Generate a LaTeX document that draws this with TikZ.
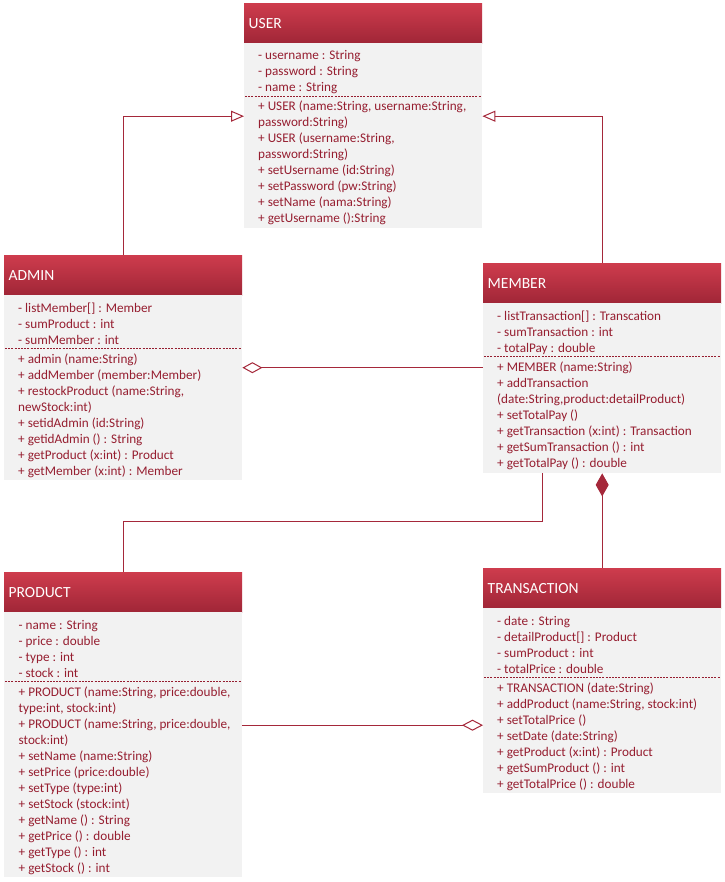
\documentclass[tikz,border=0pt]{standalone}
\usepackage{fontspec}
\setmainfont{Carlito}
\usetikzlibrary{arrows.meta}
\definecolor{txtred}{RGB}{150,30,48}
\definecolor{hdtop}{RGB}{206,60,77}
\definecolor{hdbot}{RGB}{160,38,55}
\definecolor{bodygray}{RGB}{242,242,242}
\definecolor{linered}{RGB}{165,40,58}
\tikzset{
  hdr/.style={anchor=north west, top color=hdtop, bottom color=hdbot, draw=none,
    minimum height=40pt, text width=229pt, inner xsep=4.5pt, inner ysep=0pt,
    align=left, text=white, font=\fontsize{15.5}{18}\selectfont},
  bodybox/.style={anchor=north west, fill=bodygray, draw=none, minimum width=238pt, inner sep=0pt},
  mline/.style={anchor=base west, inner sep=0pt, text=txtred, font=\fontsize{13.2}{16}\selectfont},
  sepline/.style={draw=txtred, dash pattern=on 2pt off 1.2pt, line width=0.8pt},
  conn/.style={draw=linered, line width=1pt},
  gen/.style={-{Triangle[open,length=13pt,width=11pt]}},
  aggr/.style={{Diamond[open,length=20pt,width=11pt]}-},
  comp/.style={{Diamond[length=23pt,width=13pt]}-},
}
\begin{document}
\begin{tikzpicture}[x=1pt,y=-1pt]
\fill[white] (0,0) rectangle (724,882);
\useasboundingbox (0,0) rectangle (724,882);

% ---------------- USER
\node[hdr] (userH) at (244,3) {USER};
\node[bodybox, minimum height=185pt] (userB) at (244,43) {};
\foreach \t [count=\i from 0] in {{- username : String},{- password : String},{- name : String}}
  \node[mline] (userA\i) at (258,{60+16*\i}) {\t};
\draw[sepline] (245,96) -- (481,96);
\foreach \t [count=\i from 0] in {{+ USER (name:String, username:String,},{password:String)},{+ USER (username:String,},{password:String)},{+ setUsername (id:String)},{+ setPassword (pw:String)},{+ setName (nama:String)},{+ getUsername ():String}}
  \node[mline] (userM\i) at (258,{111+16*\i}) {\t};

% ---------------- ADMIN
\node[hdr] (adminH) at (4,255) {ADMIN};
\node[bodybox, minimum height=185pt] (adminB) at (4,295) {};
\foreach \t [count=\i from 0] in {{- listMember[] : Member},{- sumProduct : int},{- sumMember : int}}
  \node[mline] (adminA\i) at (18,{312+16*\i}) {\t};
\draw[sepline] (5,348.5) -- (241,348.5);
\foreach \t [count=\i from 0] in {{+ admin (name:String)},{+ addMember (member:Member)},{+ restockProduct (name:String,},{newStock:int)},{+ setidAdmin (id:String)},{+ getidAdmin () : String},{+ getProduct (x:int) : Product},{+ getMember (x:int) : Member}}
  \node[mline] (adminM\i) at (18,{363+16*\i}) {\t};

% ---------------- MEMBER
\node[hdr] (memberH) at (483,263) {MEMBER};
\node[bodybox, minimum height=170pt] (memberB) at (483,303) {};
\foreach \t [count=\i from 0] in {{- listTransaction[] : Transcation},{- sumTransaction : int},{- totalPay : double}}
  \node[mline] (memberA\i) at (497,{320+16*\i}) {\t};
\draw[sepline] (484,356.5) -- (720,356.5);
\foreach \t [count=\i from 0] in {{+ MEMBER (name:String)},{+ addTransaction},{(date:String,product:detailProduct)},{+ setTotalPay ()},{+ getTransaction (x:int) : Transaction},{+ getSumTransaction () : int},{+ getTotalPay () : double}}
  \node[mline] (memberM\i) at (497,{371+16*\i}) {\t};

% ---------------- PRODUCT
\node[hdr] (productH) at (4,572) {PRODUCT};
\node[bodybox, minimum height=265pt] (productB) at (4,612) {};
\foreach \t [count=\i from 0] in {{- name : String},{- price : double},{- type : int},{- stock : int}}
  \node[mline] (productA\i) at (18.5,{629+16*\i}) {\t};
\draw[sepline] (5,681) -- (241,681);
\foreach \t [count=\i from 0] in {{+ PRODUCT (name:String, price:double,},{type:int, stock:int)},{+ PRODUCT (name:String, price:double,},{stock:int)},{+ setName (name:String)},{+ setPrice (price:double)},{+ setType (type:int)},{+ setStock (stock:int)},{+ getName () : String},{+ getPrice () : double},{+ getType () : int},{+ getStock () : int}}
  \node[mline] (productM\i) at (18.5,{696+16*\i}) {\t};

% ---------------- TRANSACTION
\node[hdr] (transH) at (483,568) {TRANSACTION};
\node[bodybox, minimum height=185pt] (transB) at (483,608) {};
\foreach \t [count=\i from 0] in {{- date : String},{- detailProduct[] : Product},{- sumProduct : int},{- totalPrice : double}}
  \node[mline] (transA\i) at (497,{625+16*\i}) {\t};
\draw[sepline] (484,677.5) -- (720,677.5);
\foreach \t [count=\i from 0] in {{+ TRANSACTION (date:String)},{+ addProduct (name:String, stock:int)},{+ setTotalPrice ()},{+ setDate (date:String)},{+ getProduct (x:int) : Product},{+ getSumProduct () : int},{+ getTotalPrice () : double}}
  \node[mline] (transM\i) at (497,{692+16*\i}) {\t};

% ---------------- connectors
\coordinate (uL) at ([yshift=19.5pt]userB.west);
\coordinate (uR) at ([yshift=19.5pt]userB.east);
\draw[conn,gen] (adminH.north) |- (uL);
\draw[conn,gen] (memberH.north) |- (uR);

\coordinate (aR) at ([yshift=20pt]adminB.east);
\draw[conn,aggr] (aR) -- (aR -| memberB.west);

\coordinate (mS) at ([xshift=-60pt]memberB.south);
\coordinate (bend) at (0,521);
\draw[conn] (mS) -- (mS |- bend) -| (productH.north);

\draw[conn,comp] (memberB.south) -- (transH.north);

\coordinate (pR) at ([yshift=19.5pt]productB.east);
\draw[conn,-{Diamond[open,length=21pt,width=11pt]}] (pR) -- (pR -| transB.west);
\end{tikzpicture}
\end{document}
